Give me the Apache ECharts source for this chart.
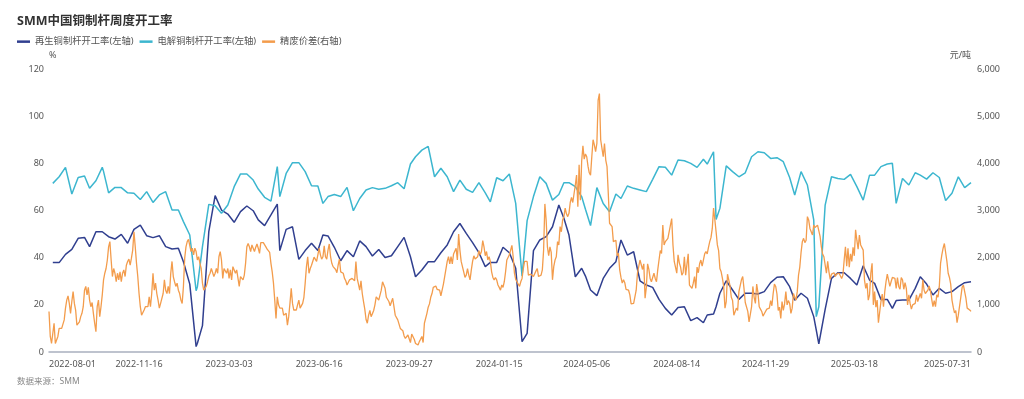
<!DOCTYPE html>
<html>
<head>
<meta charset="utf-8">
<title>SMM中国铜制杆周度开工率</title>
<script src="https://cdn.jsdelivr.net/npm/echarts@6/dist/echarts.min.js"></script>
<style>
  html, body { margin: 0; padding: 0; background: #fff; }
  #chart { width: 1024px; height: 399px; }
</style>
</head>
<body>
<div id="chart"></div>
<script>
// trading calendar used by the category axis
var START_DATE = '2022-08-01'
var END_DATE = '2025-07-31'
var FIRST_WEEK = '2022-08-04'
var HOLIDAYS = [
  '2022-09-12', '2022-10-03', '2022-10-04', '2022-10-05', '2022-10-06', '2022-10-07',
  '2023-01-02', '2023-01-23', '2023-01-24', '2023-01-25', '2023-01-26', '2023-01-27',
  '2023-04-05', '2023-05-01', '2023-05-02', '2023-05-03', '2023-06-22', '2023-06-23',
  '2023-09-29', '2023-10-02', '2023-10-03', '2023-10-04', '2023-10-05', '2023-10-06',
  '2024-01-01', '2024-02-09', '2024-02-12', '2024-02-13', '2024-02-14', '2024-02-15',
  '2024-02-16', '2024-04-04', '2024-04-05', '2024-05-01', '2024-05-02', '2024-05-03',
  '2024-06-10', '2024-09-16', '2024-09-17', '2024-10-01', '2024-10-02', '2024-10-03',
  '2024-10-04', '2024-10-07', '2025-01-01', '2025-01-28', '2025-01-29', '2025-01-30',
  '2025-01-31', '2025-02-03', '2025-02-04', '2025-04-04', '2025-05-01', '2025-05-02',
  '2025-05-05', '2025-06-02'
]
var TICK_LABELS = [
  '2022-08-01', '2022-11-16', '2023-03-03', '2023-06-16', '2023-09-27', '2024-01-15',
  '2024-05-06', '2024-08-14', '2024-11-29', '2025-03-18', '2025-07-31'
]

// 再生铜制杆开工率 (%), weekly
var RECYCLED_RATE = [
  37.9, 37.9, 41.4, 43.5, 48.2, 48.6, 44.7, 51.0, 51.0, 51.0,
  48.9, 47.9, 49.9, 46.1, 52.0, 53.8, 49.3, 48.5, 49.3, 44.7,
  43.7, 44.0, 38.3, 28.8, 2.3, 3.7, 11.2, 51.0, 66.3, 60.2,
  58.5, 55.0, 59.5, 61.9, 59.9, 56.0, 53.6, 58.1, 62.7, 43.0,
  52.0, 53.1, 39.3, 43.0, 46.1, 43.0, 49.6, 49.2, 44.4, 38.7,
  43.0, 40.4, 47.1, 44.7, 40.7, 43.5, 40.1, 40.8, 44.7, 48.6,
  40.4, 31.9, 34.8, 38.3, 38.3, 42.1, 45.4, 51.0, 54.5, 50.3,
  46.4, 42.1, 36.2, 38.0, 38.0, 44.4, 42.1, 35.5, 4.4, 7.9,
  43.0, 47.5, 48.9, 53.1, 62.3, 56.7, 49.6, 31.9, 35.5, 32.2,
  26.3, 23.9, 31.2, 35.5, 38.3, 47.5, 41.1, 42.5, 30.2, 28.4,
  27.4, 22.3, 18.5, 15.7, 18.9, 19.2, 13.3, 14.6, 12.4, 15.7,
  16.1, 19.2, 24.9, 30.2, 26.3, 22.3, 24.9, 24.9, 24.6, 25.6,
  29.4, 31.7, 31.9, 27.7, 22.0, 24.9, 22.8, 15.0, 9.3, 3.4,
  18.1, 31.2, 33.6, 33.6, 31.2, 28.4, 36.6, 30.5, 29.1, 22.3,
  22.3, 18.5, 21.8, 22.0, 22.0, 27.0, 31.9, 28.8, 24.2, 27.0,
  24.9, 25.6, 27.7, 29.4, 29.8
]

// 电解铜制杆开工率 (%), weekly
var CATHODE_RATE = [
  71.5, 74.3, 78.3, 67.0, 74.0, 74.6, 69.4, 72.6, 78.3, 76.6,
  67.5, 69.8, 69.7, 67.5, 67.3, 64.7, 68.0, 63.4, 66.6, 68.0,
  60.2, 60.2, 55.3, 49.6, 26.0, 27.7, 44.7, 62.6, 62.0, 58.8,
  62.3, 70.1, 75.5, 75.5, 72.9, 69.1, 65.6, 64.0, 78.6, 65.9,
  75.7, 80.3, 80.3, 76.5, 70.5, 70.4, 63.0, 65.9, 66.8, 65.9,
  69.8, 59.9, 65.1, 68.7, 69.7, 69.0, 69.4, 70.5, 71.8, 69.2,
  79.7, 82.8, 85.6, 87.2, 74.3, 77.9, 74.3, 68.0, 72.9, 69.0,
  67.7, 71.8, 67.5, 63.7, 73.9, 72.6, 75.5, 63.0, 32.2, 55.7,
  65.9, 74.3, 71.5, 64.4, 66.8, 71.8, 71.8, 70.1, 65.9, 60.5,
  53.6, 69.7, 63.0, 59.5, 67.0, 65.1, 70.4, 69.4, 68.7, 68.0,
  73.2, 78.6, 78.3, 75.0, 81.4, 81.1, 80.0, 78.3, 81.7, 79.7,
  84.9, 56.2, 60.9, 78.9, 76.5, 74.3, 76.0, 82.8, 84.9, 84.5,
  82.1, 82.4, 80.7, 74.0, 66.6, 76.5, 70.8, 56.0, 15.0, 19.2,
  62.3, 74.3, 73.6, 73.2, 75.3, 70.1, 64.4, 75.0, 75.0, 78.6,
  79.7, 80.0, 63.0, 73.6, 70.8, 76.0, 75.0, 73.3, 76.0, 74.0,
  64.2, 67.3, 74.3, 69.7, 71.8
]

// 精废价差 (元/吨), daily
var SPREAD = [
  860, 330, 180, 200, 610, 180, 200, 330, 500, 540,
  500, 540, 680, 930, 1100, 1190, 1030, 820, 1070, 1280,
  1030, 890, 570, 610, 640, 750, 820, 960, 1310, 1390,
  1210, 1370, 1100, 960, 1050, 820, 610, 430, 960, 1100,
  750, 960, 1210, 1530, 1670, 1770, 1950, 2230, 2340, 1950,
  1600, 1770, 1670, 1490, 1670, 1530, 1700, 1490, 1670, 1740,
  1600, 1840, 1920, 1970, 1840, 1990, 2160, 2550, 2230, 1880,
  1600, 1240, 960, 780, 780, 890, 960, 1000, 960, 1170,
  960, 1240, 1670, 1310, 1460, 1240, 1100, 930, 1030, 1000,
  1240, 1530, 1310, 1240, 1390, 1240, 1670, 1920, 1600, 1490,
  1390, 1460, 1310, 1240, 1100, 1030, 1390, 1990, 2230, 2340,
  2390, 2370, 2130, 2200, 2060, 2200, 2130, 1950, 2020, 1880,
  1770, 1460, 1310, 1310, 1390, 1490, 1610, 1670, 1770, 1740,
  1600, 1670, 1770, 1670, 2020, 2130, 1950, 1560, 1770, 1770,
  1670, 1770, 1560, 1740, 1530, 1810, 1770,
  1670, 1740, 1700, 1390, 1600, 1560, 1530, 1630, 1880, 2230,
  2300, 2230, 2130, 2270, 2300, 2130, 2220, 2290, 2200, 2090,
  2320, 2340, 2320, 2340, 2230, 2180, 2150, 2110, 1880, 1700,
  1460, 1100, 710, 1170, 1000, 930, 890, 930, 780, 780,
  820, 570, 750, 1030, 1350, 1030, 890, 860, 890, 1000,
  1100, 930, 960, 1030, 1160, 1460, 1810, 2020, 1670, 1770,
  1840, 1880, 2010, 1970, 1920, 2060, 2200, 2060, 1970, 2020,
  2250, 2020, 1970, 2160, 2290, 2020, 1880, 1810, 1770, 1750,
  1680, 1840, 1970, 1700, 1720, 1670, 1560, 1510, 1420, 1440,
  1530, 1490, 1560, 1580, 1510, 1920, 1560, 1440, 1310, 1510,
  1240, 1070, 910, 690, 610, 780, 880, 750, 810, 880,
  1000, 1170, 1210, 1100, 1070, 1310, 1490, 1530, 1350, 1160,
  1190, 1070, 980, 950, 1140, 960, 780, 740, 680, 590,
  500, 470, 450, 340, 290, 300, 360, 340, 200, 380,
  360, 270, 180, 170, 150, 220,
  270, 330, 200, 610, 640, 820, 950, 1020, 1160, 1240,
  1370, 1390, 1400, 1330, 1330, 1310, 1190, 1160, 1440, 1600,
  1610, 1920, 2020, 1870, 2020, 1870, 2080, 2060, 2200, 1950,
  2500, 2160, 1920, 1940, 1700, 1580, 1630, 1770, 1630, 1530,
  1740, 1920, 2040, 1970, 1970, 2020, 2150, 2060, 2130, 2360,
  2230, 2040, 2130, 1950, 2020, 1920, 1700, 1580, 1530, 1580,
  1530, 1420, 1370, 1310, 1420, 1370, 1490, 1700, 1950, 1980,
  2060, 2160, 2260, 2020, 1670, 1540, 1490, 1470, 1390, 1490,
  1560, 1770, 1920, 1950, 1920, 1630, 1600, 1650, 1650, 1600,
  1630, 1720, 1770, 1600, 1560, 1630, 1740, 2160, 3140, 2800,
  2230, 2040, 2230, 2110, 1530, 1810, 1950, 2020, 2340, 2270,
  2660, 2550, 2800, 2870, 3050, 2930, 2870, 2940, 3170, 3280,
  3170, 3210, 3540, 3750, 3080, 3970, 3220, 4040, 4370, 4090,
  4200, 4140, 3940, 3800, 3750, 4140, 4500, 4390, 4250, 4420,
  5340, 5480, 4500, 4320, 4140, 4420,
  4070, 3930, 3360, 2730, 2690, 2660, 2340, 2300, 2370, 2040,
  2090, 1740, 1580, 1460, 1530, 1470, 1330, 1370, 1310, 1210,
  1020, 1000, 1030, 1020, 1310, 1670, 1810, 1950, 1920, 1750,
  1870, 1140, 1370, 1870, 1750, 1560, 1490, 1580, 1670, 1560,
  1490, 1740, 1950, 2150, 2090, 2690, 2270, 2340, 2370, 2410,
  2450, 2690, 2830, 2270, 1920, 1950, 1670, 2060, 1890, 1800,
  1630, 1680, 2020, 1630, 1650, 2080, 1420, 1440, 1350, 1460,
  1600, 1350, 1800, 1680, 1870, 1950, 1820, 1950, 2080, 2130,
  2080, 2220, 2340, 2430, 2620, 3050, 2810, 2550, 2270, 2150,
  1770, 1700, 1560, 1390, 930, 1070, 1650, 1610, 1400, 1160,
  1090, 780, 810, 930, 880, 1280, 1310, 1530, 1600, 1350,
  1050, 1070, 860, 640, 620, 960, 1390, 1160, 1030, 1440,
  1260, 960, 910, 860, 760, 810, 780, 910, 890, 930,
  1090, 980, 1240, 1440, 1390, 1230, 880, 950, 710, 1070,
  880, 1020, 1280, 1000, 1090, 1030,
  820, 930, 1240, 1160, 1100, 1280, 1630, 1800, 2110, 2340,
  2410, 2320, 2370, 2870, 2800, 2620, 2550, 2480, 2690, 2640,
  2620, 2690, 2660, 2450, 2230, 2080, 2020, 1990, 1670, 1920,
  1700, 1540, 1650, 1610, 1680, 1600, 1650, 1680, 1670, 1670,
  1560, 1630, 1950, 2230, 1820, 2200, 1800, 2080, 1920, 2220,
  2040, 2590, 2370, 2180, 2480, 2270, 2300, 2160, 1530, 1350,
  1460, 1100, 1210, 1670, 1880, 1000, 1280, 950, 1100, 620,
  610, 1070, 1230, 960, 1280, 1490, 1650, 1630, 1390, 1490,
  1580, 1610, 1560, 1350, 1580, 1390, 1330, 1580, 1530, 1330,
  1470, 1350, 1000, 1210, 1030, 910, 1000, 960, 1030, 1210,
  1070, 1090, 1240, 1140, 1530, 1310, 1240, 1240, 1310, 1400,
  1300, 1120, 960, 1090, 960, 1210, 1160, 1390, 1880, 2060,
  2200, 2300, 2340, 1920, 1670, 1580, 1440, 1100, 950, 830,
  880, 620, 780, 760, 1170, 1370, 1420, 1420, 1140, 930,
  960, 890, 860
]

var COLORS = {
  recycled: '#303f8f',
  cathode: '#3cb6cf',
  spread: '#f39c4c',
  axis: '#a9b0bf',
  label: '#555'
}
var FONT = "'Noto Sans', 'Noto Sans CJK SC', sans-serif"

function pad(n) { return n < 10 ? '0' + n : '' + n }
function fmt(d) {
  return d.getUTCFullYear() + '-' + pad(d.getUTCMonth() + 1) + '-' + pad(d.getUTCDate())
}

function buildDays() {
  var out = []
  var d = new Date(START_DATE + 'T00:00:00Z')
  var end = new Date(END_DATE + 'T00:00:00Z')
  while (d <= end) {
    var wd = d.getUTCDay()
    var s = fmt(d)
    if (wd !== 0 && wd !== 6 && HOLIDAYS.indexOf(s) < 0) out.push(s)
    d.setUTCDate(d.getUTCDate() + 1)
  }
  return out
}

// each weekly reading sits on the last trading day up to that week's Thursday
function buildWeekIndex(days) {
  var idx = []
  var d = new Date(FIRST_WEEK + 'T00:00:00Z')
  var end = new Date(END_DATE + 'T00:00:00Z')
  var j = 0
  while (d <= end) {
    var s = fmt(d)
    while (j + 1 < days.length && days[j + 1] <= s) j++
    if (idx[idx.length - 1] !== j) idx.push(j)
    d.setUTCDate(d.getUTCDate() + 7)
  }
  return idx
}

function placeWeekly(values, weekIdx, n) {
  var arr = []
  for (var i = 0; i < n; i++) arr.push(null)
  for (var k = 0; k < values.length && k < weekIdx.length; k++) arr[weekIdx[k]] = values[k]
  return arr
}

var days = buildDays()
var weekIdx = buildWeekIndex(days)

var chart = echarts.init(document.getElementById('chart'))
var option = {
  animation: false,
  textStyle: { fontFamily: FONT },
  title: {
    text: 'SMM中国铜制杆周度开工率',
    left: 17,
    top: 15,
    padding: 0,
    textStyle: { fontSize: 12.5, fontWeight: 'bold', color: '#333', fontFamily: FONT }
  },
  legend: {
    left: 17,
    top: 37,
    padding: 0,
    icon: 'rect',
    itemWidth: 13,
    itemHeight: 2.5,
    itemGap: 6,
    textStyle: { fontSize: 9.3, color: COLORS.label, fontFamily: FONT },
    data: ['再生铜制杆开工率(左轴)', '电解铜制杆开工率(左轴)', '精废价差(右轴)']
  },
  graphic: [{
    type: 'text',
    left: 17,
    top: 377,
    style: { text: '数据来源：SMM', fontSize: 8.5, fill: '#888', fontFamily: FONT }
  }],
  grid: { left: 49, right: 53, top: 69, bottom: 47 },
  xAxis: {
    type: 'category',
    data: days,
    boundaryGap: false,
    axisLine: { lineStyle: { color: COLORS.axis, width: 1.5 } },
    axisTick: { show: false },
    splitLine: { show: false },
    axisLabel: {
      color: COLORS.label,
      fontSize: 9,
      margin: 8,
      alignMinLabel: 'left',
      alignMaxLabel: 'right',
      interval: function (i, v) { return TICK_LABELS.indexOf(v) >= 0 }
    }
  },
  yAxis: [
    {
      type: 'value',
      min: 0,
      max: 120,
      interval: 20,
      name: '%',
      nameGap: 9,
      nameTextStyle: { color: COLORS.label, fontSize: 9, align: 'left' },
      axisLine: { show: false },
      axisTick: { show: false },
      splitLine: { show: false },
      axisLabel: { color: COLORS.label, fontSize: 9, margin: 5 }
    },
    {
      type: 'value',
      min: 0,
      max: 6000,
      interval: 1000,
      name: '元/吨',
      nameGap: 9,
      nameTextStyle: { color: COLORS.label, fontSize: 9, align: 'right' },
      axisLine: { show: false },
      axisTick: { show: false },
      splitLine: { show: false },
      axisLabel: {
        color: COLORS.label,
        fontSize: 9,
        margin: 6,
        formatter: function (v) { return v.toLocaleString('en-US') }
      }
    }
  ],
  series: [
    {
      name: '再生铜制杆开工率(左轴)',
      type: 'line',
      yAxisIndex: 0,
      data: placeWeekly(RECYCLED_RATE, weekIdx, days.length),
      connectNulls: true,
      showSymbol: false,
      color: COLORS.recycled,
      lineStyle: { width: 1.5 }
    },
    {
      name: '电解铜制杆开工率(左轴)',
      type: 'line',
      yAxisIndex: 0,
      data: placeWeekly(CATHODE_RATE, weekIdx, days.length),
      connectNulls: true,
      showSymbol: false,
      color: COLORS.cathode,
      lineStyle: { width: 1.5 }
    },
    {
      name: '精废价差(右轴)',
      type: 'line',
      yAxisIndex: 1,
      data: SPREAD,
      showSymbol: false,
      color: COLORS.spread,
      lineStyle: { width: 1.3 }
    }
  ]
}
chart.setOption(option)
</script>
</body>
</html>
